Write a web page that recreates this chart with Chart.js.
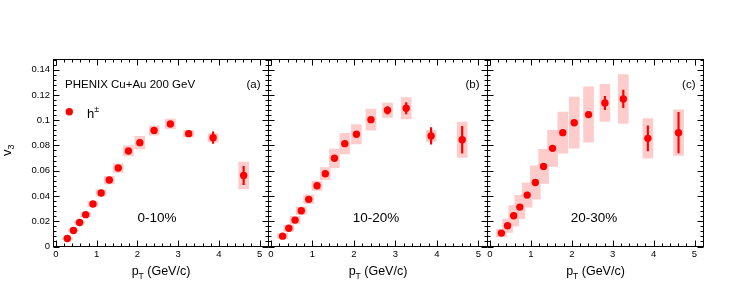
<!DOCTYPE html>
<html>
<head>
<meta charset="utf-8">
<script src="https://cdn.jsdelivr.net/npm/chart.js@4.4.1/dist/chart.umd.min.js"></script>
<style>
  body { margin: 0; background: #fff; }
  #wrap { position: relative; width: 747px; height: 294px; }
  #wrap canvas { position: absolute; left: 0; top: 0; }
</style>
</head>
<body>
<div id="wrap">
  <canvas id="pa" width="747" height="294"></canvas>
  <canvas id="pb" width="747" height="294"></canvas>
  <canvas id="pc" width="747" height="294"></canvas>
</div>
<script>
// pT bin centres (GeV/c)
var ptBins = [0.28, 0.43, 0.58, 0.73, 0.91, 1.11, 1.31, 1.53, 1.78, 2.06, 2.41, 2.81, 3.26, 3.86, 4.61];

// 0-10%
var v3A   = [0.0063, 0.0127, 0.0190, 0.0252, 0.0336, 0.0424, 0.0526, 0.0621, 0.0756, 0.0822, 0.0919, 0.0970, 0.0893, 0.0861, 0.0562];
var statA = [0.0005, 0.0005, 0.0006, 0.0007, 0.0008, 0.0010, 0.0012, 0.0014, 0.0016, 0.0018, 0.0018, 0.0020, 0.0022, 0.0046, 0.0073];
var sysA  = [0.0008, 0.0010, 0.0013, 0.0016, 0.0020, 0.0025, 0.0030, 0.0034, 0.0040, 0.0050, 0.0037, 0.0038, 0.0026, 0.0033, 0.0106];

// 10-20%
var v3B   = [0.0082, 0.0145, 0.0209, 0.0283, 0.0373, 0.0481, 0.0576, 0.0698, 0.0814, 0.0888, 0.1004, 0.1078, 0.1094, 0.0875, 0.0845];
var statB = [0.0005, 0.0006, 0.0007, 0.0008, 0.0009, 0.0011, 0.0013, 0.0015, 0.0017, 0.0019, 0.0020, 0.0030, 0.0045, 0.0066, 0.0106];
var sysB  = [0.0020, 0.0025, 0.0030, 0.0030, 0.0035, 0.0037, 0.0048, 0.0074, 0.0082, 0.0077, 0.0083, 0.0057, 0.0085, 0.0044, 0.0140];

// 20-30%
var v3C   = [0.0106, 0.0164, 0.0243, 0.0312, 0.0407, 0.0507, 0.0634, 0.0777, 0.0901, 0.0980, 0.1044, 0.1136, 0.1168, 0.0856, 0.0901];
var statC = [0.0006, 0.0007, 0.0008, 0.0009, 0.0010, 0.0012, 0.0014, 0.0016, 0.0019, 0.0021, 0.0024, 0.0053, 0.0070, 0.0100, 0.0160];
var sysC  = [0.0030, 0.0053, 0.0080, 0.0092, 0.0095, 0.0132, 0.0135, 0.0143, 0.0162, 0.0202, 0.0219, 0.0147, 0.0193, 0.0156, 0.0180];

var xTickValues = [0, 1, 2, 3, 4, 5];
var xTickLabels = ['0', '1', '2', '3', '4', '5'];
var yTickValues = [0, 0.02, 0.04, 0.06, 0.08, 0.1, 0.12, 0.14];
var yTickLabels = ['0', '0.02', '0.04', '0.06', '0.08', '0.1', '0.12', '0.14'];

var FONT = '"Liberation Sans", Arial, Helvetica, sans-serif';
var RED = '#ff0000';
var PINK = '#ffcccc';

// inward ticks on all four sides + frame + text
var frame = {
  id: 'frame',
  afterDraw: function (chart) {
    var ctx = chart.ctx, a = chart.chartArea;
    var xs = chart.scales.x, ys = chart.scales.y;
    var o = chart.options.plugins.frame;
    ctx.save();
    ctx.strokeStyle = '#000';
    ctx.lineWidth = 1;
    ctx.strokeRect(a.left, a.top, a.right - a.left, a.bottom - a.top);
    ctx.beginPath();
    var k, v, p, len;
    for (k = Math.ceil(xs.min / 0.2 - 1e-6); k * 0.2 <= xs.max + 1e-6; k++) {
      v = k * 0.2;
      p = Math.round(xs.getPixelForValue(v)) + 0.5;
      len = (k % 5 === 0) ? 6 : 3;
      ctx.moveTo(p, a.bottom); ctx.lineTo(p, a.bottom - len);
      ctx.moveTo(p, a.top); ctx.lineTo(p, a.top + len);
    }
    for (k = Math.ceil(ys.min / 0.004 - 1e-6); k * 0.004 <= ys.max + 1e-6; k++) {
      v = k * 0.004;
      p = Math.round(ys.getPixelForValue(v)) + 0.5;
      len = (k % 5 === 0) ? 6 : 3;
      ctx.moveTo(a.left, p); ctx.lineTo(a.left + len, p);
      ctx.moveTo(a.right, p); ctx.lineTo(a.right - len, p);
    }
    ctx.stroke();

    ctx.fillStyle = '#000';
    ctx.textAlign = 'right';
    ctx.font = '11.5px ' + FONT;
    ctx.fillText(o.tag, a.right - 8, 87.5);
    ctx.textAlign = 'center';
    ctx.font = '13.5px ' + FONT;
    ctx.fillText(o.cent, o.centX, 221.7);

    // x title: p_T (GeV/c)
    ctx.textAlign = 'left';
    ctx.font = '12.5px ' + FONT;
    var w1 = ctx.measureText('p').width;
    var w3 = ctx.measureText(' (GeV/c)').width;
    ctx.font = '8.5px ' + FONT;
    var w2 = ctx.measureText('T').width;
    var x0 = (a.left + a.right) / 2 - (w1 + w2 + w3) / 2;
    ctx.font = '12.5px ' + FONT;
    ctx.fillText('p', x0, 274.5);
    ctx.fillText(' (GeV/c)', x0 + w1 + w2, 274.5);
    ctx.font = '8.5px ' + FONT;
    ctx.fillText('T', x0 + w1, 278.5);

    if (o.first) {
      ctx.font = '11.5px ' + FONT;
      ctx.fillText('PHENIX Cu+Au 200 GeV', 65, 87.5);
      // legend
      ctx.fillStyle = RED;
      ctx.beginPath();
      ctx.arc(69.3, 111.7, 3.7, 0, Math.PI * 2);
      ctx.fill();
      ctx.fillStyle = '#000';
      ctx.font = '13px ' + FONT;
      ctx.fillText('h', 87, 118.3);
      ctx.font = '9px ' + FONT;
      ctx.fillText('\u00b1', 94.3, 111.5);
      // y title: v_3
      ctx.save();
      ctx.translate(10.5, 156);
      ctx.rotate(-Math.PI / 2);
      ctx.font = '13px ' + FONT;
      ctx.fillText('v', 0, 0);
      var wv = ctx.measureText('v').width;
      ctx.font = '9px ' + FONT;
      ctx.fillText('3', wv, 3.5);
      ctx.restore();
    }
    ctx.restore();
  }
};

function makePanel(id, v3, stat, sys, left, right, showY, tag, cent, centX) {
  var pts = ptBins.map(function (x, i) { return { x: x, y: v3[i] }; });
  var errs = ptBins.map(function (x, i) { return { x: x, y: [v3[i] - stat[i], v3[i] + stat[i]] }; });
  var boxes = ptBins.map(function (x, i) { return { x: x, y: [v3[i] - sys[i], v3[i] + sys[i]] }; });
  return new Chart(document.getElementById(id), {
    type: 'bar',
    data: {
      datasets: [
        { type: 'scatter', data: pts, backgroundColor: RED, borderWidth: 0, pointRadius: 3.7, order: 0 },
        { data: errs, backgroundColor: RED, barThickness: 1.5, order: 1 },
        { data: boxes, backgroundColor: PINK, barThickness: 10, order: 2 }
      ]
    },
    options: {
      responsive: false,
      animation: false,
      events: [],
      layout: { padding: { left: 0, right: 747 - right, top: 59.5, bottom: 0 } },
      datasets: { bar: { grouped: false } },
      plugins: {
        legend: { display: false },
        tooltip: { enabled: false },
        frame: { tag: tag, cent: cent, centX: centX, first: showY }
      },
      scales: {
        x: {
          type: 'linear', min: -0.06, max: 5.22, offset: false,
          grid: { display: false, drawTicks: false }, border: { display: false },
          afterBuildTicks: function (s) { s.ticks = xTickValues.map(function (v) { return { value: v }; }); },
          afterFit: function (s) { s.height = 294 - 246.5; },
          ticks: {
            autoSkip: false, maxRotation: 0, minRotation: 0, padding: 2, color: '#000',
            font: { family: FONT, size: 9.5 },
            callback: function (v, i) { return xTickLabels[i]; }
          }
        },
        y: {
          type: 'linear', min: 0, max: 0.148,
          grid: { display: false, drawTicks: false }, border: { display: false },
          afterBuildTicks: function (s) { s.ticks = yTickValues.map(function (v) { return { value: v }; }); },
          afterFit: function (s) { s.width = left; },
          ticks: {
            display: showY, padding: 3.5, color: '#000',
            font: { family: FONT, size: 9.5 },
            callback: function (v, i) { return yTickLabels[i]; }
          }
        }
      }
    },
    plugins: [frame]
  });
}

makePanel('pa', v3A, statA, sysA, 53.5, 268.5, true, '(a)', '0-10%', 157);
makePanel('pb', v3B, statB, sysB, 268.5, 487.5, false, '(b)', '10-20%', 376);
makePanel('pc', v3C, statC, sysC, 487.5, 703.5, false, '(c)', '20-30%', 594);
</script>
</body>
</html>
